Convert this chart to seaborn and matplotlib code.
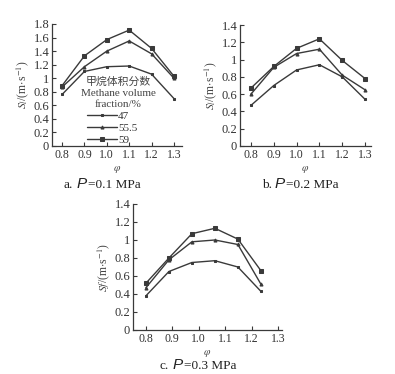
import matplotlib
matplotlib.use("Agg")
import matplotlib.pyplot as plt
import seaborn as sns
import pandas as pd

sns.set_theme(style="ticks")
plt.rcParams["font.family"] = ["Liberation Serif", "Noto Sans CJK SC"]
plt.rcParams["mathtext.fontset"] = "stix"

phi = [0.8, 0.9, 1.0, 1.1, 1.2, 1.3]
phi_c = [0.8, 0.887, 0.974, 1.061, 1.148, 1.235]
series_labels = ["47", "55.5", "59"]

a_47 = [0.76, 1.10, 1.17, 1.18, 1.06, 0.70]
a_555 = [0.87, 1.17, 1.40, 1.55, 1.36, 1.00]
a_59 = [0.89, 1.33, 1.57, 1.71, 1.44, 1.03]

b_47 = [0.47, 0.70, 0.88, 0.94, 0.80, 0.54]
b_555 = [0.60, 0.91, 1.07, 1.12, 0.82, 0.65]
b_59 = [0.67, 0.92, 1.13, 1.24, 0.99, 0.78]

c_47 = [0.38, 0.65, 0.75, 0.77, 0.70, 0.43]
c_555 = [0.47, 0.78, 0.98, 1.00, 0.95, 0.51]
c_59 = [0.52, 0.80, 1.07, 1.13, 1.01, 0.66]

xticks = [0.8, 0.9, 1.0, 1.1, 1.2, 1.3]
xtick_labels = ["0.8", "0.9", "1.0", "1.1", "1.2", "1.3"]
yticks_a = [0, 0.2, 0.4, 0.6, 0.8, 1, 1.2, 1.4, 1.6, 1.8]
yticks_bc = [0, 0.2, 0.4, 0.6, 0.8, 1, 1.2, 1.4]

W, H = 395, 374
fig = plt.figure(figsize=(W / 100, H / 100), dpi=100)

def ax_at(l, r, t, b):
    return fig.add_axes([l / W, 1 - b / H, (r - l) / W, (b - t) / H])

col = "#3a3a3a"
styles = [dict(marker="s", ms=2.0), dict(marker="^", ms=2.2), dict(marker="s", ms=3.0)]

def panel(ax, xs, ys_list, xlim, ylim, yticks, ylabel):
    for ys, st, lab in zip(ys_list, styles, series_labels):
        df = pd.DataFrame({"x": xs, "y": ys})
        sns.lineplot(data=df, x="x", y="y", ax=ax, color=col, lw=1.0,
                     marker=st["marker"], markersize=st["ms"],
                     markeredgecolor=col, markerfacecolor=col, label=lab, legend=False)
    ax.set_xlim(*xlim)
    ax.set_ylim(*ylim)
    ax.set_xticks(xticks)
    ax.set_xticklabels(xtick_labels)
    ax.set_yticks(yticks)
    ax.set_yticklabels([f"{v:g}" for v in yticks])
    ax.tick_params(direction="in", length=3, width=0.8, colors=col,
                   labelcolor="#333333", pad=2)
    ax.tick_params(axis="y", labelsize=9)
    ax.tick_params(axis="x", labelsize=8.5)
    for s in ["top", "right"]:
        ax.spines[s].set_visible(False)
    for s in ["left", "bottom"]:
        ax.spines[s].set_color(col)
        ax.spines[s].set_linewidth(0.9)
    ax.set_xlabel(r"$\varphi$", fontsize=7.5, color="#444444", labelpad=2)
    ax.set_ylabel(ylabel, fontsize=8.5, color="#444444", labelpad=2)

ax_a = ax_at(52, 182, 24, 146)
panel(ax_a, phi, [a_47, a_555, a_59], (0.755, 1.336), (0, 1.8), yticks_a,
      r"$S_l$/(m$\cdot$s$^{-1}$)")
ax_b = ax_at(240, 371, 25, 146)
panel(ax_b, phi, [b_47, b_555, b_59], (0.752, 1.326), (0, 1.4), yticks_bc,
      r"$S_l$/(m$\cdot$s$^{-1}$)")
ax_c = ax_at(133, 282, 204, 330)
panel(ax_c, phi_c, [c_47, c_555, c_59], (0.751, 1.315), (0, 1.4), yticks_bc,
      r"$Sf$/(m$\cdot$s$^{-1}$)")

# legend title in panel a
title_lines = ["甲烷体积分数", "Methane volume", "fraction/%"]
for i, (line, yy) in enumerate(zip(title_lines, [82, 94, 104.5])):
    fig.text(118 / W, 1 - yy / H, line, ha="center", va="center",
             fontsize=8 if i else 7.8, color="#444444")
leg = ax_a.legend(loc="upper left", bbox_to_anchor=((87 - 52) / 130, (146 - 111.5) / 122),
                  frameon=False, fontsize=8, handlelength=2.7, handletextpad=0.1,
                  labelspacing=0.2, borderpad=0, borderaxespad=0)
for t in leg.get_texts():
    t.set_color("#333333")

def caption(x, y, letter, val):
    fig.text(x / W, 1 - y / H, f"{letter}.", ha="left", va="baseline", fontsize=9.5,
             color="#222222")
    fig.text((x + 13) / W, 1 - y / H, "P", ha="left", va="baseline", fontsize=11,
             style="italic", family="Liberation Sans", color="#222222")
    fig.text((x + 24) / W, 1 - y / H, "=" + val + " MPa", ha="left", va="baseline",
             fontsize=9.5, color="#222222")

caption(64, 188, "a", "0.1")
caption(262, 188, "b", "0.2")
caption(160, 369, "c", "0.3")

fig.savefig("out.png", dpi=100, facecolor="white")
